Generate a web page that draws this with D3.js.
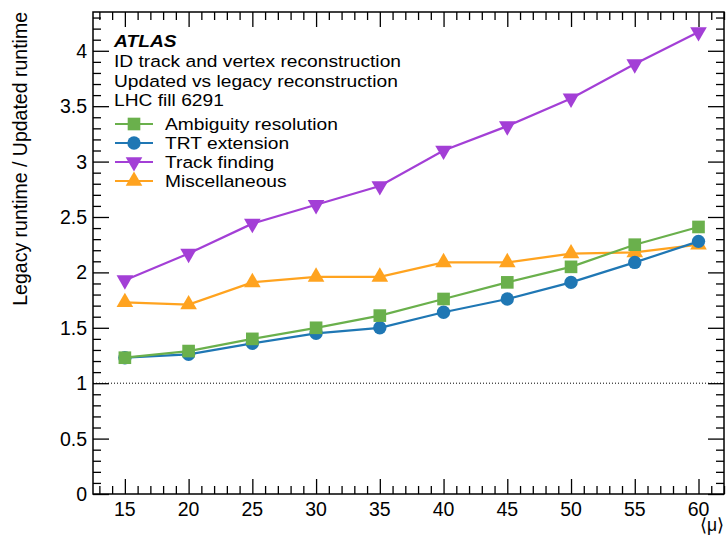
<!DOCTYPE html>
<html>
<head>
<meta charset="utf-8">
<script src="https://cdn.jsdelivr.net/npm/d3@7"></script>
<style>
  html, body { margin: 0; padding: 0; background: #fff; }
  svg { display: block; font-family: "Liberation Sans", Arial, Helvetica, sans-serif; }
</style>
</head>
<body>
<svg id="chart" width="728" height="535"></svg>
<script>
// Pile-up values <mu>
const mu = [15, 20, 25, 30, 35, 40, 45, 50, 55, 60];

// Speed-up ratios (legacy / updated runtime) per component
const ambiguity = [1.23, 1.29, 1.40, 1.50, 1.61, 1.76, 1.91, 2.05, 2.25, 2.41];
const trtExtension = [1.23, 1.26, 1.36, 1.45, 1.50, 1.64, 1.76, 1.91, 2.09, 2.28];
const trackFinding = [1.93, 2.17, 2.44, 2.61, 2.78, 3.10, 3.32, 3.57, 3.88, 4.17];
const miscellaneous = [1.73, 1.71, 1.91, 1.96, 1.96, 2.09, 2.09, 2.17, 2.18, 2.25];

const xTicks = [15, 20, 25, 30, 35, 40, 45, 50, 55, 60];
const yTicks = [0, 0.5, 1, 1.5, 2, 2.5, 3, 3.5, 4];

const headerLines = ["ID track and vertex reconstruction", "Updated vs legacy reconstruction", "LHC fill 6291"];

const series = [
  { name: "Ambiguity resolution", values: ambiguity, color: "#6ab04c", marker: "square" },
  { name: "TRT extension", values: trtExtension, color: "#1f77b4", marker: "circle" },
  { name: "Track finding", values: trackFinding, color: "#a33fd6", marker: "tridown" },
  { name: "Miscellaneous", values: miscellaneous, color: "#ffa31f", marker: "triup" }
];

const svg = d3.select("#chart");
const frame = { left: 93, right: 724, top: 12, bottom: 494 };

const x = d3.scaleLinear().domain([12.5, 62]).range([frame.left, frame.right]);
const y = d3.scaleLinear().domain([0, 4.35]).range([frame.bottom, frame.top]);

const majorX = 15, minorX = 8, majorY = 16, minorY = 8;
const fontSize = 19.5;     // axis labels and titles
const boxFont = 17;        // header and legend lines (tightly stacked)
const boxStretch = 1.13;   // horizontal widening of the stacked lines

// Minor tick positions
const xMinor = d3.range(13, 62.01, 1).filter(v => v % 5 !== 0);
const yMinor = d3.range(0, 4.351, 0.1).map(v => +v.toFixed(2)).filter(v => Math.abs(v * 2 - Math.round(v * 2)) > 1e-6);

// Axes: ticks drawn inward on all four sides
function tickAxis(axisGen, values, size) {
  return axisGen.tickValues(values).tickSize(size).tickFormat("").tickSizeOuter(0);
}

const gAxes = svg.append("g").attr("class", "axes");

// bottom
gAxes.append("g").attr("transform", `translate(0,${frame.bottom})`)
  .call(tickAxis(d3.axisTop(x), xTicks, majorX));
gAxes.append("g").attr("transform", `translate(0,${frame.bottom})`)
  .call(tickAxis(d3.axisTop(x), xMinor, minorX));
// top
gAxes.append("g").attr("transform", `translate(0,${frame.top})`)
  .call(tickAxis(d3.axisBottom(x), xTicks, majorX));
gAxes.append("g").attr("transform", `translate(0,${frame.top})`)
  .call(tickAxis(d3.axisBottom(x), xMinor, minorX));
// left
gAxes.append("g").attr("transform", `translate(${frame.left},0)`)
  .call(tickAxis(d3.axisRight(y), yTicks, majorY));
gAxes.append("g").attr("transform", `translate(${frame.left},0)`)
  .call(tickAxis(d3.axisRight(y), yMinor, minorY));
// right
gAxes.append("g").attr("transform", `translate(${frame.right},0)`)
  .call(tickAxis(d3.axisLeft(y), yTicks, majorY));
gAxes.append("g").attr("transform", `translate(${frame.right},0)`)
  .call(tickAxis(d3.axisLeft(y), yMinor, minorY));

gAxes.selectAll(".domain").remove();
gAxes.selectAll(".tick line").attr("stroke", "#000").attr("stroke-width", 1.3);

// Frame
svg.append("rect")
  .attr("x", frame.left).attr("y", frame.top)
  .attr("width", frame.right - frame.left).attr("height", frame.bottom - frame.top)
  .attr("fill", "none").attr("stroke", "#000").attr("stroke-width", 1.5);

// Tick labels
svg.append("g").selectAll("text").data(xTicks).join("text")
  .attr("x", d => x(d)).attr("y", frame.bottom + 22)
  .attr("text-anchor", "middle").attr("font-size", fontSize)
  .text(d => d);

svg.append("g").selectAll("text").data(yTicks).join("text")
  .attr("x", frame.left - 6).attr("y", d => y(d) + 7)
  .attr("text-anchor", "end").attr("font-size", fontSize)
  .text(d => d);

// Axis titles
svg.append("text")
  .attr("transform", `translate(27,${frame.top}) rotate(-90)`)
  .attr("text-anchor", "end").attr("font-size", fontSize)
  .text("Legacy runtime / Updated runtime");

svg.append("text")
  .attr("x", frame.right).attr("y", frame.bottom + 37)
  .attr("text-anchor", "end").attr("font-size", fontSize - 2)
  .text("⟨μ⟩");

// Reference line at ratio 1
svg.append("line")
  .attr("x1", frame.left).attr("x2", frame.right)
  .attr("y1", y(1)).attr("y2", y(1))
  .attr("stroke", "#000").attr("stroke-width", 1).attr("stroke-dasharray", "1,2");

// Marker shapes
const symbolFor = {
  square: d3.symbol().type(d3.symbolSquare).size(160),
  circle: d3.symbol().type(d3.symbolCircle).size(140),
  triup: d3.symbol().type(d3.symbolTriangle).size(120),
  tridown: d3.symbol().type(d3.symbolTriangle).size(120)
};
function markerTransform(kind, px, py) {
  return kind === "tridown" ? `translate(${px},${py}) rotate(180)` : `translate(${px},${py})`;
}

const line = d3.line().x((d, i) => x(mu[i])).y(d => y(d));

// Draw order so that markers layer like the plot
const drawOrder = [2, 3, 1, 0];
drawOrder.forEach(si => {
  const s = series[si];
  const g = svg.append("g");
  g.append("path").datum(s.values)
    .attr("d", line).attr("fill", "none")
    .attr("stroke", s.color).attr("stroke-width", 2.2);
  g.selectAll("path.mk").data(s.values).join("path")
    .attr("class", "mk")
    .attr("d", symbolFor[s.marker]())
    .attr("transform", (d, i) => markerTransform(s.marker, x(mu[i]), y(d)))
    .attr("fill", s.color);
});

// Stacked text line, widened horizontally
function boxText(px, py, str) {
  return svg.append("text")
    .attr("transform", `translate(${px},${py}) scale(${boxStretch},1)`)
    .attr("font-size", boxFont).text(str);
}

// Header text
const tx = 114;
boxText(tx, 47, "ATLAS").attr("font-weight", "bold").attr("font-style", "italic");
headerLines.forEach((t, i) => boxText(tx, 67 + i * 19.5, t));

// Legend
const legend = svg.append("g");
series.forEach((s, i) => {
  const ly = 124 + i * 19;
  legend.append("line")
    .attr("x1", 115).attr("x2", 153).attr("y1", ly).attr("y2", ly)
    .attr("stroke", s.color).attr("stroke-width", 2.2);
  legend.append("path")
    .attr("d", symbolFor[s.marker]())
    .attr("transform", markerTransform(s.marker, 134, ly))
    .attr("fill", s.color);
  boxText(165, ly + 6, s.name);
});
</script>
</body>
</html>
